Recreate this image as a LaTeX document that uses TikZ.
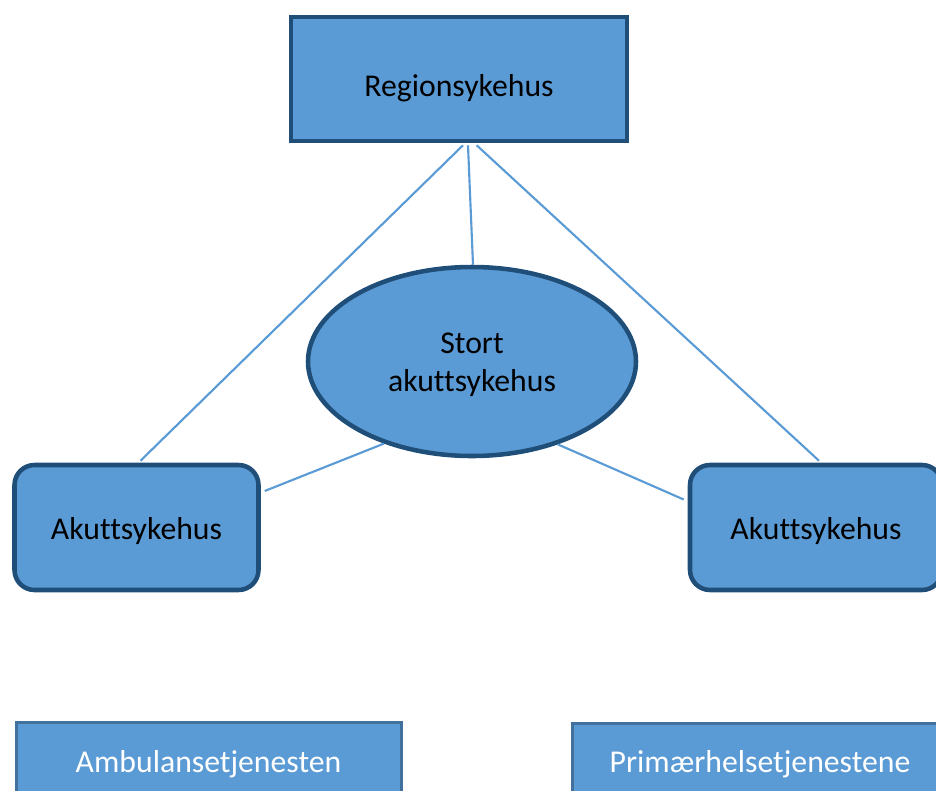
\documentclass[tikz,border=0pt]{standalone}
\usepackage{fontspec}
\setmainfont[Ligatures=NoCommon]{Carlito}
\usetikzlibrary{shapes.geometric,calc}
\definecolor{fillb}{HTML}{5B9BD5}
\definecolor{darkb}{HTML}{1F4E79}
\definecolor{midb}{HTML}{41719C}
\newcommand{\lowtxt}[1]{\raisebox{-2.4pt}[\height][\depth]{#1}}
\begin{document}
\begin{tikzpicture}[x=0.75pt,y=-0.75pt,
  txt/.style={font=\fontsize{23.8}{29}\selectfont},
  darkbox/.style={draw=darkb,fill=fillb,line width=3.4pt,inner sep=0pt,txt},
  lowbox/.style={draw=midb,fill=fillb,line width=2.25pt,inner sep=0pt,txt,text=white},
  conn/.style={draw=fillb,line width=1.6pt}]
\useasboundingbox (0,0) rectangle (936,790);
\clip (0,0) rectangle (936,790);

% nodes
\node[darkbox,rectangle,minimum width=252pt,minimum height=93pt] (reg) at (459,79) {};
\node[txt] (regt) at (459,88) {Regionsykehus};
\node[darkbox,ellipse,minimum width=246pt,minimum height=141.75pt] (ell) at (472,361.5) {\lowtxt{\begin{tabular}{@{}c@{}}Stort\\akuttsykehus\end{tabular}}};
\node[darkbox,rectangle,rounded corners=15pt,minimum width=183pt,minimum height=93.75pt] (akl) at (136.5,527.5) {\lowtxt{Akuttsykehus}};
\node[darkbox,rectangle,rounded corners=15pt,minimum width=189pt,minimum height=93.75pt] (akr) at (816,527.5) {\lowtxt{Akuttsykehus}};
\node[lowbox,rectangle,minimum width=288.75pt,minimum height=58.5pt] (amb) at (208.5,761) {\lowtxt{Ambulansetjenesten}};
\node[lowbox,rectangle,minimum width=281.25pt,minimum height=56.25pt] (prim) at (760,761) {\lowtxt{Primærhelsetjenestene}};

% connectors
\draw[conn] ([xshift=3pt,yshift=-1.5pt]reg.south) -- ([xshift=3pt,yshift=1.5pt]akl.north);
\draw[conn] ([xshift=6.75pt,yshift=-1.5pt]reg.south) -- ([xshift=0.75pt]ell.north);
\draw[conn] ([xshift=13.25pt,yshift=-1.5pt]reg.south) -- ([xshift=2.25pt,yshift=1.5pt]akr.north);
\draw[conn] (ell.223.5) -- ([xshift=3pt,yshift=27.4pt]akl.east);
\draw[conn] (ell.316.8) -- ([xshift=-3pt,yshift=21pt]akr.west);
\end{tikzpicture}
\end{document}
